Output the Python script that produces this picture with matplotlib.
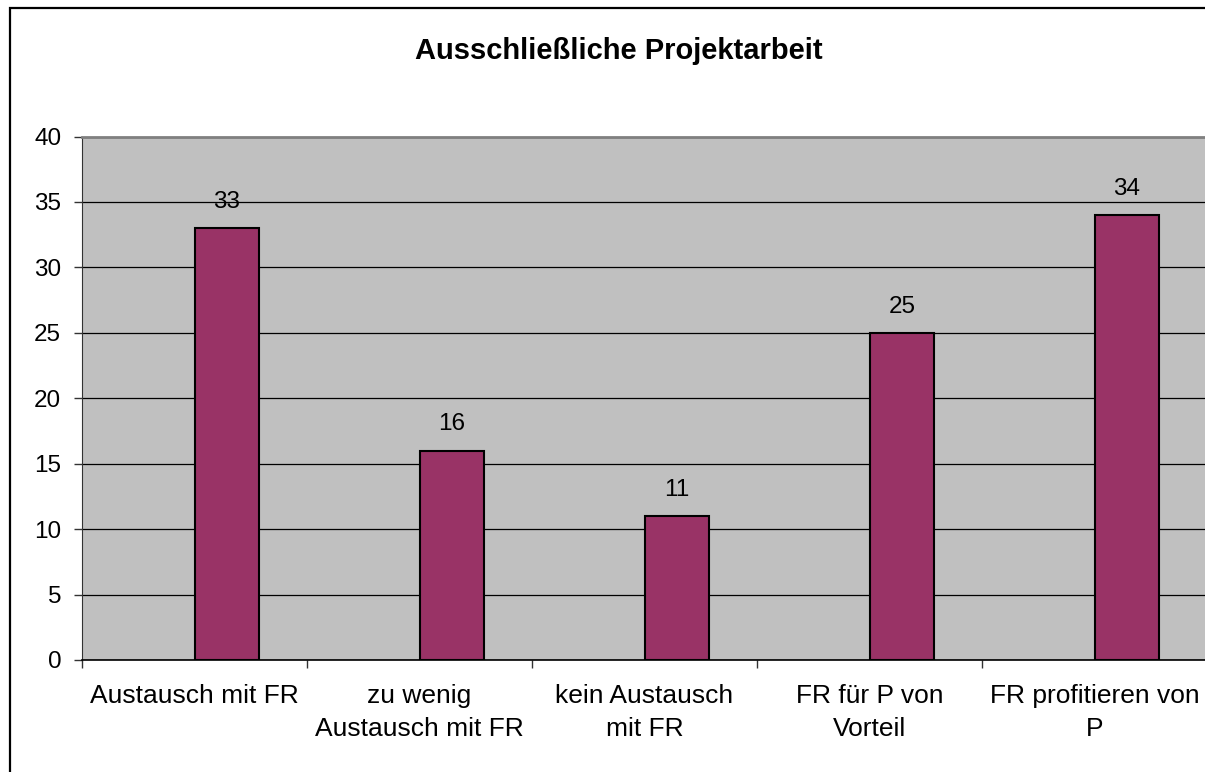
import matplotlib.pyplot as plt
from matplotlib.patches import Rectangle
import numpy as np

categories = [
    "Austausch mit FR",
    "zu wenig\nAustausch mit FR",
    "kein Austausch\nmit FR",
    "FR für P von\nVorteil",
    "FR profitieren von\nP",
]
values = [33, 16, 11, 25, 34]
title = "Ausschließliche Projektarbeit"

plt.rcParams["font.family"] = ["Liberation Sans", "DejaVu Sans"]

W, H = 1205, 772
fig = plt.figure(figsize=(W / 100, H / 100), dpi=100)

# outer chart frame (right/bottom edges fall outside the picture)
fig.patches.append(Rectangle((10 / W, -0.05), 1.2, 1 - 8 / H + 0.05, transform=fig.transFigure,
                             fill=False, edgecolor="black", linewidth=1.6, zorder=0))

ax = fig.add_axes([82 / W, 1 - 660 / H, 1125 / W, (660 - 136.5) / H])
ax.set_facecolor("#c0c0c0")

n = len(categories)
cat = np.arange(n)
bar_w = 0.284
ax.bar(cat + 0.644, values, width=bar_w, color="#993366", edgecolor="black", linewidth=1.5, zorder=3)

for x, v in zip(cat + 0.644, values):
    ax.annotate(str(v), (x, v), xytext=(0, 14.5), textcoords="offset points",
                ha="center", va="baseline", fontsize=17.5)

ax.set_xlim(0, n)
ax.set_ylim(0, 40)
ax.set_yticks(np.arange(0, 41, 5))
ax.yaxis.grid(True, color="black", linewidth=0.9, zorder=1)
ax.set_axisbelow(True)

ax.set_xticks(np.arange(0, n + 1))
ax.set_xticklabels([])
ax.set_xticks(cat + 0.5, minor=True)
ax.set_xticklabels(categories, minor=True, fontsize=19, linespacing=1.5)
ax.tick_params(axis="x", which="minor", length=0, pad=17)
ax.tick_params(axis="x", which="major", length=6, width=1, color="#333333")
ax.tick_params(axis="y", length=6, width=1, color="#333333", labelsize=17.5, pad=9)

ax.spines["right"].set_visible(False)
ax.spines["top"].set_color("#808080")
ax.spines["top"].set_linewidth(2)
ax.spines["left"].set_color("#333333")
ax.spines["bottom"].set_color("black")
ax.spines["bottom"].set_linewidth(1.2)
ax.spines["bottom"].set_zorder(4)

fig.text(619 / W, 1 - 51 / H, title, ha="center", va="center", fontsize=21, fontweight="bold")

fig.savefig("out.png", dpi=100)
